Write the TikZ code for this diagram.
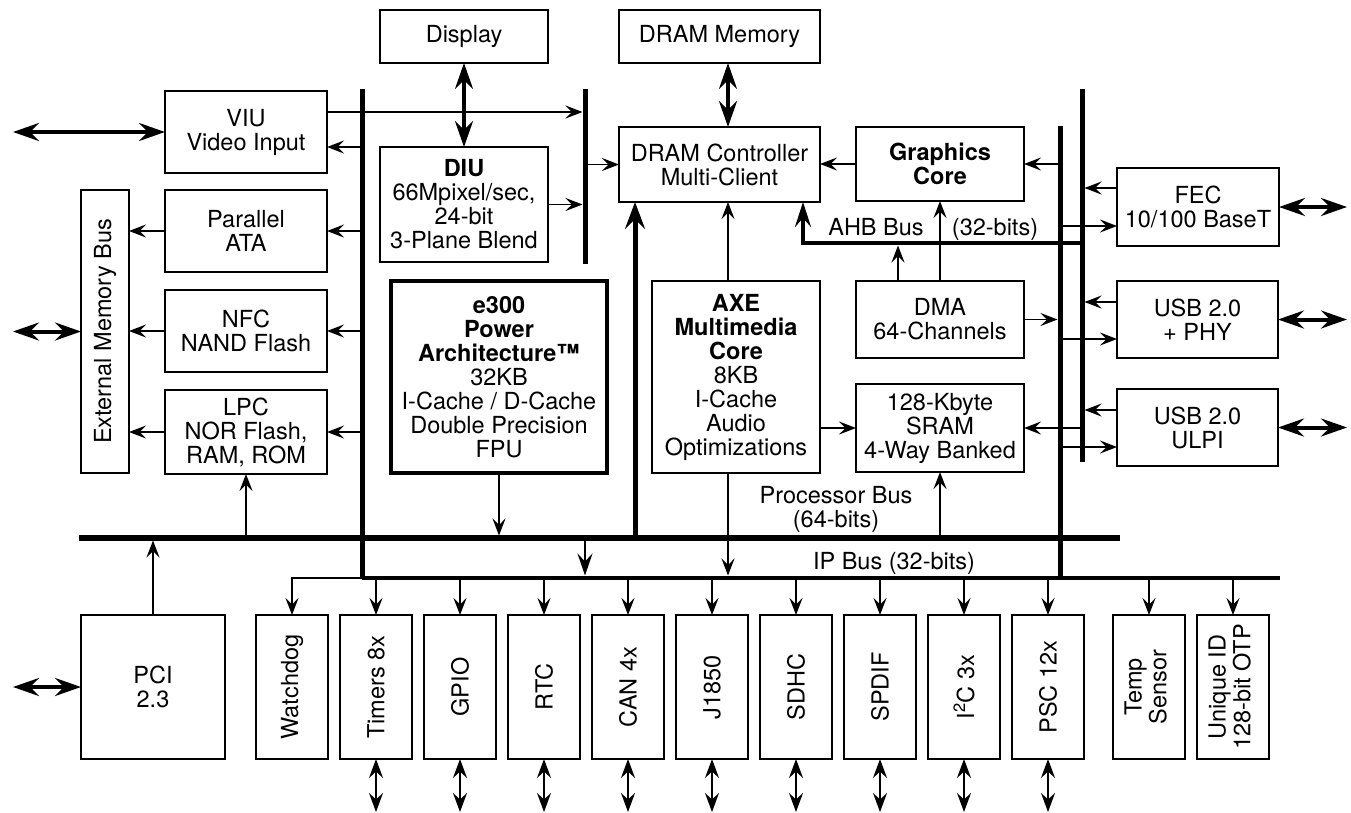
\documentclass[tikz,border=0pt]{standalone}
\usepackage{fontspec}
\setmainfont{TeX Gyre Heros}
\usetikzlibrary{arrows.meta,positioning}

\begin{document}
\begin{tikzpicture}[x=1pt, y=-1pt, node distance=12pt,
    every node/.style={font=\fontsize{23.5pt}{24pt}\selectfont},
    box/.style={draw, line width=1.7pt, align=center, inner sep=0pt, outer sep=0pt},
    lbox/.style={box, minimum width=162pt, minimum height=82pt},
    cbox/.style={box, minimum width=168pt},
    pbox/.style={box, minimum width=72pt, minimum height=144pt},
    arr/.style={line width=1.5pt, -{Stealth[length=17pt, width=13pt, inset=6.5pt]}},
    marr/.style={line width=2.5pt, -{Stealth[length=22pt, width=15pt, inset=8pt]}},
    tarr/.style={line width=5pt, -{Stealth[length=27pt, width=20pt, inset=10pt]}},
    ahb/.style={line width=4pt, -{Stealth[length=25pt, width=16pt, inset=9pt]}},
    dbl/.style={line width=4pt, {Stealth[length=26pt, width=18pt, inset=9pt]}-{Stealth[length=26pt, width=18pt, inset=9pt]}},
    pdbl/.style={line width=1.8pt, {Stealth[length=19pt, width=14pt, inset=6.5pt]}-{Stealth[length=19pt, width=14pt, inset=6.5pt]}},
    bus/.style={line width=5pt},
    inb/.style={shorten >=2.5pt},
    lbl/.style={inner sep=0pt}]
  \useasboundingbox (0,0) rectangle (1351,812);

  % top and left blocks
  \node[cbox, minimum height=53pt] (disp) at (464,36.5) {Display};
  \node[box, minimum width=201pt, minimum height=53pt] (dmem) at (719.5,36.5) {DRAM Memory};
  \node[lbox] (vid) at (246,132) {VIU\\Video Input};
  \node[lbox, below=17pt of vid] (pata) {Parallel\\ATA};
  \node[lbox, below=18pt of pata] (nfc) {NFC\\NAND Flash};
  \node[lbox, minimum height=84pt, below=18pt of nfc] (lpc) {LPC\\NOR Flash,\\RAM, ROM};
  \node[box, minimum width=48pt, minimum height=283pt] (ext) at (105,331.5) {\rotatebox{90}{External Memory Bus}};
  \node[box, minimum size=144pt] (pci) at (153,687) {PCI\\2.3};

  % core blocks
  \node[cbox, minimum height=115pt] (diu) at (464,204.5) {\textbf{DIU}\\66Mpixel/sec,\\24-bit\\3-Plane Blend};
  \node[box, minimum width=201pt, minimum height=75pt] (dctl) at (719.5,164.5) {DRAM Controller\\Multi-Client};
  \node[cbox, minimum height=74pt] (gfx) at (940,164) {\textbf{Graphics}\\\textbf{Core}};
  \node[box, line width=3.5pt, minimum width=216pt, minimum height=192pt] (cpu) at (499,377)
    {\textbf{e300}\\\textbf{Power}\\\textbf{Architecture\texttrademark}\\32KB\\I-Cache / D-Cache\\Double Precision\\FPU};
  \node[cbox, minimum height=192pt] (axe) at (736,377)
    {\textbf{AXE}\\\textbf{Multimedia}\\\textbf{Core}\\8KB\\I-Cache\\Audio\\Optimizations};
  \node[cbox, minimum height=77pt] (dma) at (940,319.5) {DMA\\64-Channels};
  \node[cbox, minimum height=88pt] (sram) at (940,428) {128-Kbyte\\SRAM\\4-Way Banked};

  % right blocks
  \node[lbox, minimum height=78pt] (fec) at (1198,207) {FEC\\10/100 BaseT};
  \node[lbox, minimum width=161pt, minimum height=77pt] (phy) at (1197.5,319.5) {USB 2.0\\+ PHY};
  \node[lbox, minimum width=161pt, minimum height=77pt] (ulpi) at (1197.5,427.5) {USB 2.0\\ULPI};

  % peripherals on the IP bus
  \node[pbox] (wdog) at (292,687) {\rotatebox{90}{Watchdog}};
  \node[pbox, right=of wdog] (tmr) {\rotatebox{90}{Timers 8x}};
  \node[pbox, right=of tmr] (gpio) {\rotatebox{90}{GPIO}};
  \node[pbox, right=of gpio] (rtc) {\rotatebox{90}{RTC}};
  \node[pbox, right=of rtc] (can) {\rotatebox{90}{CAN 4x}};
  \node[pbox, right=of can] (jbus) {\rotatebox{90}{J1850}};
  \node[pbox, right=of jbus] (sdhc) {\rotatebox{90}{SDHC}};
  \node[pbox, right=of sdhc] (spdif) {\rotatebox{90}{SPDIF}};
  \node[pbox, right=of spdif] (itc) {\rotatebox{90}{I\textsuperscript{2}C 3x}};
  \node[pbox, right=of itc] (psc) {\rotatebox{90}{PSC 12x}};
  \node[pbox, right=29pt of psc] (temp) {\rotatebox{90}{\begin{tabular}{@{}c@{}}Temp\\Sensor\end{tabular}}};
  \node[pbox, right=of temp] (uid) {\rotatebox{90}{\begin{tabular}{@{}c@{}}Unique ID\\128-bit OTP\end{tabular}}};

  % bus labels
  \node[lbl, anchor=base] (ahbname) at (876,235) {AHB Bus};
  \node[lbl, anchor=base] (ahbwidth) at (995,235) {(32-bits)};
  \node[lbl, align=center] (procname) at (836,509) {Processor Bus\\(64-bits)};
  \node[lbl, anchor=base] (ipname) at (894,569) {IP Bus (32-bits)};

  % bus ends and taps
  \coordinate (busL) at (362,89);   \coordinate (busLe) at (362,578);
  \coordinate (busD) at (585,89);   \coordinate (busDe) at (585,264);
  \coordinate (busA) at (1060,126); \coordinate (busAe) at (1060,578);
  \coordinate (busB) at (1082,89);  \coordinate (busBe) at (1082,462);
  \coordinate (procL) at (79,538);  \coordinate (procR) at (1120,538);
  \coordinate (ipL) at (362,578);   \coordinate (ipR) at (1280,578);
  \coordinate (ahbL) at (803,243);  \coordinate (ahbR) at (1082,243);
  \coordinate (memx) at (728,0); \coordinate (fatx) at (635,0); \coordinate (dmax) at (898,0);
  \coordinate (edgeL) at (13,0); \coordinate (edgeR) at (1347,0); \coordinate (edgeB) at (0,812);
  \coordinate (vidin) at ([yshift=-15pt]vid.east); \coordinate (vidout) at ([yshift=20pt]vid.east);
  \coordinate (fecout) at ([yshift=19pt]fec.west); \coordinate (fecin) at ([yshift=-19pt]fec.west);
  \coordinate (phyout) at ([yshift=17.5pt]phy.west); \coordinate (phyin) at ([yshift=-19.5pt]phy.west);
  \coordinate (ulpiout) at ([yshift=17.5pt]ulpi.west); \coordinate (ulpiin) at ([yshift=-19.5pt]ulpi.west);

  % left side
  \draw[arr] (busL |- vidin) -- (vidin); \draw[arr, inb] (vidout) -- (busD |- vidout);
  \draw[arr] (busL |- pata.east) -- (pata.east); \draw[arr] (pata.west) -- (pata.west -| ext.east);
  \draw[arr] (busL |- nfc.east) -- (nfc.east); \draw[arr] (nfc.west) -- (nfc.west -| ext.east);
  \draw[arr] (busL |- lpc.east) -- (lpc.east); \draw[arr] (lpc.west) -- (lpc.west -| ext.east);
  \draw[arr] (lpc.south |- procL) -- (lpc.south); \draw[arr, inb] (pci.north) -- (pci.north |- procL);

  % centre
  \draw[dbl] (disp.south) -- (diu.north);
  \draw[dbl] (memx |- dmem.south) -- (memx |- dctl.north);
  \draw[arr, inb] (diu.east) -- (busD |- diu.east); \draw[arr] (busD |- dctl.west) -- (dctl.west);
  \draw[arr] (memx |- axe.north) -- (memx |- dctl.south);
  \draw[tarr] (fatx |- procL) -- (fatx |- dctl.south);
  \draw[arr] (gfx.west) -- (gfx.west -| dctl.east); \draw[arr] (busA |- gfx.east) -- (gfx.east);
  \draw[arr] (dma.north) -- (gfx.south); \draw[arr, inb] (dmax |- dma.north) -- (dmax |- ahbL);
  \draw[ahb] (ahbR) -- (ahbL) -- (ahbL |- dctl.south);
  \draw[arr, inb] (dma.east) -- (busA |- dma.east); \draw[arr] (busB |- sram.east) -- (sram.east);
  \draw[arr] (axe.east |- sram.west) -- (sram.west); \draw[arr] (sram.south |- procL) -- (sram.south);
  \draw[arr, inb] (cpu.south) -- (cpu.south |- procL);
  \draw[arr, inb] (memx |- axe.south) -- (memx |- ipL);
  \draw[marr, inb] (busD |- procL) -- (busD |- ipL);

  % right side
  \draw[arr, inb] (fecout) -- (busB |- fecout); \draw[arr] (busA |- fecin) -- (fecin);
  \draw[arr, inb] (phyout) -- (busB |- phyout); \draw[arr] (busA |- phyin) -- (phyin);
  \draw[arr, inb] (ulpiout) -- (busB |- ulpiout); \draw[arr] (busA |- ulpiin) -- (ulpiin);

  % off-chip
  \draw[dbl] (vid.west) -- (vid.west -| edgeL); \draw[dbl] (ext.west) -- (ext.west -| edgeL);
  \draw[dbl] (pci.west) -- (pci.west -| edgeL);
  \draw[dbl] (fec.east) -- (fec.east -| edgeR); \draw[dbl] (phy.east) -- (phy.east -| edgeR);
  \draw[dbl] (ulpi.east) -- (ulpi.east -| edgeR);

  % IP bus taps
  \draw[arr] (ipL) -| (wdog.north);
  \draw[arr] (tmr.north |- ipL) -- (tmr.north); \draw[arr] (gpio.north |- ipL) -- (gpio.north);
  \draw[arr] (rtc.north |- ipL) -- (rtc.north); \draw[arr] (can.north |- ipL) -- (can.north);
  \draw[arr] (jbus.north |- ipL) -- (jbus.north); \draw[arr] (sdhc.north |- ipL) -- (sdhc.north);
  \draw[arr] (spdif.north |- ipL) -- (spdif.north); \draw[arr] (itc.north |- ipL) -- (itc.north);
  \draw[arr] (psc.north |- ipL) -- (psc.north); \draw[arr] (temp.north |- ipL) -- (temp.north);
  \draw[arr] (uid.north |- ipL) -- (uid.north);
  \draw[pdbl] (tmr.south) -- (tmr.south |- edgeB); \draw[pdbl] (gpio.south) -- (gpio.south |- edgeB);
  \draw[pdbl] (rtc.south) -- (rtc.south |- edgeB); \draw[pdbl] (can.south) -- (can.south |- edgeB);
  \draw[pdbl] (jbus.south) -- (jbus.south |- edgeB); \draw[pdbl] (sdhc.south) -- (sdhc.south |- edgeB);
  \draw[pdbl] (spdif.south) -- (spdif.south |- edgeB); \draw[pdbl] (itc.south) -- (itc.south |- edgeB);
  \draw[pdbl] (psc.south) -- (psc.south |- edgeB);

  % buses
  \draw[bus] (busL) -- (busLe); \draw[bus] (busD) -- (busDe);
  \draw[bus] (busA) -- (busAe); \draw[bus] (busB) -- (busBe);
  \draw[bus, line width=6pt] (procL) -- (procR);
  \draw[bus, line width=3.5pt] (ipL) -- (ipR);
\end{tikzpicture}
\end{document}
